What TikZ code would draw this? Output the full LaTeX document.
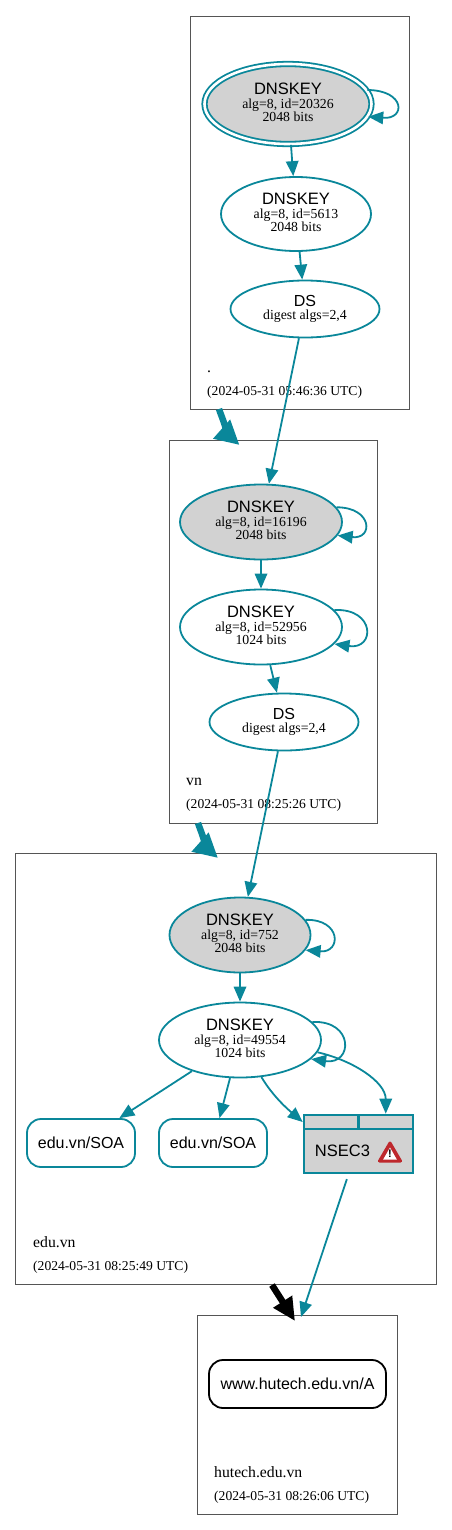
\documentclass[tikz,border=0pt]{standalone}
\usepackage{fontspec}
\setmainfont{Liberation Serif}
\newfontfamily\hvfont{Liberation Sans}
\usepackage{tikz}
\usetikzlibrary{arrows.meta,shapes.geometric}
\definecolor{dnsteal}{RGB}{10,135,154}
\definecolor{zonegr}{RGB}{85,85,85}
\definecolor{warnred}{RGB}{190,40,45}
\newcommand{\bigname}[2]{{\hvfont\fontsize{#1bp}{15bp}\selectfont #2}}
\newcommand{\keytxt}[2]{\bigname{16.5}{DNSKEY}\\[1.2bp]#1\\#2\\[-9.5bp]\mbox{}}
\begin{document}
\begin{tikzpicture}[x=1bp,y=-1bp,
  zone/.style={draw=zonegr,line width=0.9bp},
  ksk/.style={ellipse,draw=dnsteal,line width=1.8bp,inner sep=0pt,align=center,
    font=\fontsize{13.8bp}{13.2bp}\selectfont,minimum width=162bp,minimum height=75bp},
  dsn/.style={ksk,minimum width=149bp,minimum height=57bp},
  rrset/.style={rectangle,rounded corners=14bp,draw=dnsteal,line width=1.8bp,
    minimum width=108bp,minimum height=48bp,inner sep=0pt},
  cell/.style={rectangle,draw=dnsteal,fill=lightgray!70,line width=2.6bp,inner sep=0pt},
  edg/.style={dnsteal,line width=1.8bp,-{Triangle[length=15bp,width=12.5bp]}},
  deleg/.style={dnsteal,line width=6.5bp,-{Triangle[length=24bp,width=24bp]}},
  zname/.style={anchor=base west,font=\fontsize{15.7bp}{15bp}\selectfont,inner sep=0pt},
  stamp/.style={anchor=base west,font=\fontsize{13.6bp}{14bp}\selectfont,inner sep=0pt}]
\useasboundingbox (0,0) rectangle (452,1530);
\draw[zone] (190.5,16) rectangle (409,409);
\draw[zone] (169.5,440.5) rectangle (377,823);
\draw[zone] (15.5,853.5) rectangle (436,1284);
\draw[zone] (197.5,1315.5) rectangle (397,1514);
\node[zname] (rootname) at (207,372) {.};
\node[stamp] (rootstamp) at (207,395) {(2024-05-31 05:46:36 UTC)};
\node[ksk,fill=lightgray!70,double=white,double distance=2.6bp,minimum width=167bp,minimum height=80bp]
  (rootsep) at (288,104) {\keytxt{alg=8, id=20326}{2048 bits}};
\node[ksk,minimum width=150bp,minimum height=74bp] (rootzsk) at (296,214)
  {\keytxt{alg=8, id=5613}{2048 bits}};
\node[dsn] (rootds) at (305,309) {\bigname{16}{DS}\\digest algs=2,4};
\node[zname] (vnname) at (186,785) {vn};
\node[stamp] (vnstamp) at (186,808) {(2024-05-31 08:25:26 UTC)};
\node[ksk,fill=lightgray!70] (vnsep) at (261,522) {\keytxt{alg=8, id=16196}{2048 bits}};
\node[ksk] (vnzsk) at (261,627) {\keytxt{alg=8, id=52956}{1024 bits}};
\node[dsn] (vnds) at (284,722) {\bigname{16}{DS}\\digest algs=2,4};
\node[zname] (eduname) at (33,1247) {edu.vn};
\node[stamp] (edustamp) at (33,1270) {(2024-05-31 08:25:49 UTC)};
\node[ksk,fill=lightgray!70,minimum width=141bp] (edusep) at (240,935)
  {\keytxt{alg=8, id=752}{2048 bits}};
\node[ksk] (eduzsk) at (240,1040) {\keytxt{alg=8, id=49554}{1024 bits}};
\node[rrset] (soaa) at (81,1143) {\bigname{16}{edu.vn/SOA}};
\node[rrset] (soab) at (213,1143) {\bigname{16}{edu.vn/SOA}};
\node[cell,minimum width=109bp,minimum height=58bp] (nsec) at (358.5,1144) {};
\node[cell,minimum width=54.5bp,minimum height=14bp] (nsecl) at (331.25,1122) {};
\node[cell,minimum width=54.5bp,minimum height=14bp] (nsecr) at (385.75,1122) {};
\node (nseclbl) at (342.5,1150.5) {\bigname{16.5}{NSEC3}};
\fill[warnred,draw=warnred,line width=3bp,line join=round] (390,1143)--(400.5,1161)--(379.5,1161)--cycle;
\fill[white] (390,1147.5)--(396.8,1159.5)--(383.2,1159.5)--cycle;
\node[inner sep=0pt,font=\hvfont\bfseries\fontsize{11bp}{11bp}\selectfont] (warnmark) at (390,1154) {!};
\node[zname] (hostname) at (214,1477) {hutech.edu.vn};
\node[stamp] (hoststamp) at (214,1500) {(2024-05-31 08:26:06 UTC)};
\node[rrset,draw=black,minimum width=177bp] (hosta) at (297.5,1384) {\bigname{16}{www.hutech.edu.vn/A}};
\coordinate (rootout) at (219,409);
\coordinate (vnin) at (239.5,445);
\coordinate (vnout) at (198,823);
\coordinate (eduin) at (218,858);
\coordinate (eduout) at (272,1285);
\coordinate (hostin) at (295,1321);
\coordinate (hostedge) at (301,1317);
\draw[edg] (rootsep.10) .. controls +(38,0) and +(38,3) .. (rootsep.-9);
\draw[edg] (rootsep)--(rootzsk);
\draw[edg] (rootzsk)--(rootds);
\draw[edg] (rootds)--(vnsep);
\draw[deleg] (rootout) .. controls +(3,9) and +(-9,-8) .. (vnin);
\draw[edg] (vnsep.11) .. controls +(36,0) and +(36,4) .. (vnsep.-10);
\draw[edg] (vnsep)--(vnzsk);
\draw[edg] (vnzsk.13) .. controls +(41,-2) and +(41,6) .. (vnzsk.-13);
\draw[edg] (vnzsk)--(vnds);
\draw[edg] (vnds)--(edusep);
\draw[deleg] (vnout) .. controls +(3,9) and +(-9,-8) .. (eduin);
\draw[edg] (edusep.13) .. controls +(36,-1) and +(36,3) .. (edusep.-13);
\draw[edg] (edusep)--(eduzsk);
\draw[edg] (eduzsk.14) .. controls +(42,-2) and +(42,6) .. (eduzsk.-15);
\draw[edg] (eduzsk)--(soaa);
\draw[edg] (eduzsk)--(soab);
\draw[edg] (eduzsk.-60) .. controls +(12,20) and +(-14,-12) .. (nsecl.west);
\draw[edg] (eduzsk.-9) .. controls +(35,8) and +(0,-32) .. (nsecr.north);
\draw[edg,shorten <=5bp] (nsec)--(hostedge);
\draw[black,line width=6.5bp,-{Triangle[length=23bp,width=21bp]}] (eduout)--(hostin);
\end{tikzpicture}
\end{document}
